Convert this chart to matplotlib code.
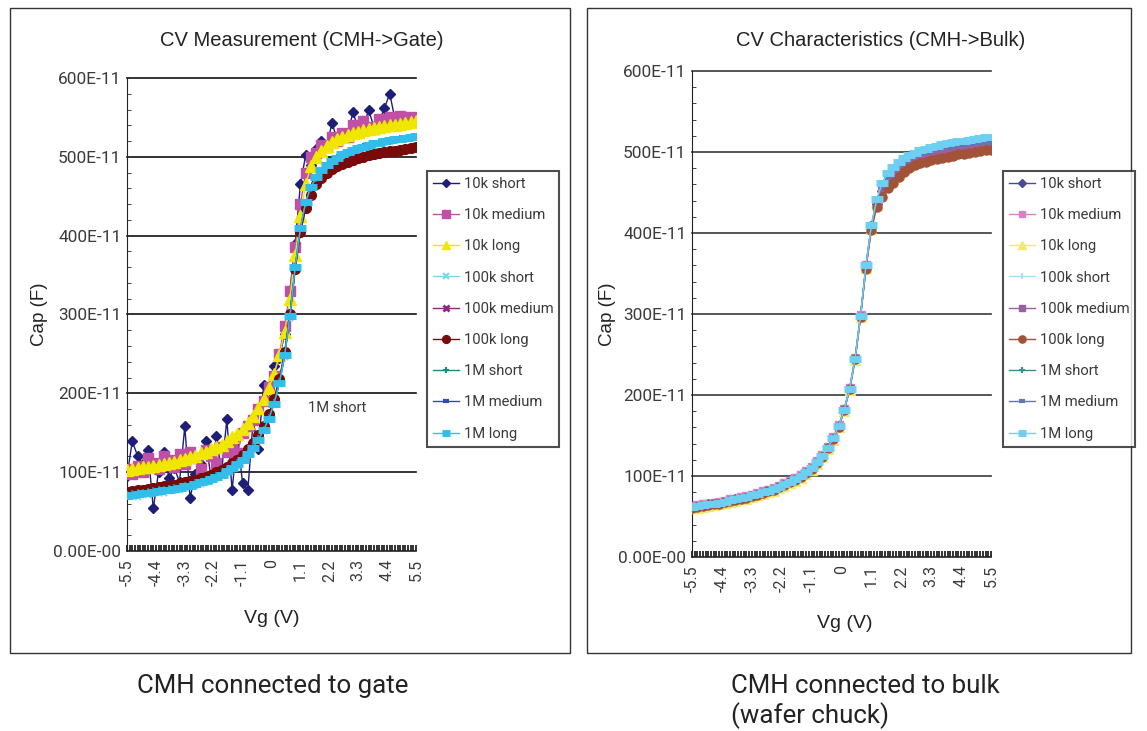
import matplotlib
matplotlib.use("Agg")
import matplotlib.pyplot as plt
from matplotlib.patches import Rectangle
from matplotlib.ticker import MultipleLocator, FixedLocator, FuncFormatter

plt.rcParams['font.family'] = ['Roboto', 'DejaVu Sans']

# gate voltage sweep (V)
vg = [-5.5, -5.3, -5.1, -4.9, -4.7, -4.5, -4.3, -4.1,
      -3.9, -3.7, -3.5, -3.3, -3.1, -2.9, -2.7, -2.5,
      -2.3, -2.1, -1.9, -1.7, -1.5, -1.3, -1.1, -0.9,
      -0.7, -0.5, -0.3, -0.1, 0.1, 0.3, 0.5, 0.7,
      0.9, 1.1, 1.3, 1.5, 1.7, 1.9, 2.1, 2.3,
      2.5, 2.7, 2.9, 3.1, 3.3, 3.5, 3.7, 3.9,
      4.1, 4.3, 4.5, 4.7, 4.9, 5.1, 5.3, 5.5]

series_names = ["10k short", "10k medium", "10k long",
                "100k short", "100k medium", "100k long",
                "1M short", "1M medium", "1M long"]

x_tick_vals = [-5.5, -4.4, -3.3, -2.2, -1.1, 0, 1.1, 2.2, 3.3, 4.4, 5.5]
x_tick_labels = ["-5.5", "-4.4", "-3.3", "-2.2", "-1.1", "0",
                 "1.1", "2.2", "3.3", "4.4", "5.5"]

# capacitance, in units of 1E-11 F -- CMH connected to gate
gate_10k_short = [95, 139, 121, 110, 128, 54, 100, 126,
                  92, 105, 88, 158, 67, 98, 110, 140,
                  92, 146, 100, 167, 77, 145, 86, 77,
                  165, 130, 210, 190, 235, 245, 275, 330,
                  390, 465, 502, 490, 510, 520, 512, 543,
                  522, 530, 528, 557, 535, 540, 559, 538,
                  545, 562, 580, 548, 552, 548, 545, 550]
gate_10k_medium = [104, 98, 108, 100, 118, 112, 104, 121,
                   115, 106, 123, 110, 126, 118, 104, 128,
                   120, 112, 132, 125, 137, 124, 150, 158,
                   166, 180, 190, 208, 222, 250, 285, 330,
                   385, 440, 480, 500, 505, 515, 512, 525,
                   520, 530, 525, 540, 532, 545, 538, 535,
                   548, 540, 550, 545, 552, 546, 550, 548]
gate_10k_long = [103, 104, 105, 106, 107, 108, 109, 110,
                 111, 113, 115, 117, 119, 121, 124, 126,
                 129, 132, 135, 139, 144, 149, 155, 162,
                 171, 181, 193, 207, 225, 248, 278, 320,
                 375, 425, 465, 488, 500, 508, 514, 519,
                 522, 525, 528, 530, 532, 534, 535, 537,
                 538, 539, 540, 541, 542, 543, 544, 545]
gate_100k_short = [68, 70, 69, 72, 71, 73, 74, 73,
                   76, 77, 78, 80, 81, 83, 85, 87,
                   90, 92, 96, 99, 104, 108, 115, 122,
                   130, 140, 152, 167, 186, 212, 246, 296,
                   358, 408, 440, 460, 472, 480, 487, 492,
                   496, 500, 503, 506, 508, 511, 512, 514,
                   516, 517, 519, 520, 521, 522, 523, 524]
gate_100k_medium = [74, 75, 76, 77, 78, 79, 80, 81,
                    82, 83, 85, 86, 88, 89, 91, 93,
                    96, 99, 102, 106, 110, 115, 121, 128,
                    136, 146, 158, 173, 192, 217, 251, 299,
                    357, 404, 434, 451, 464, 472, 479, 483,
                    487, 490, 493, 495, 497, 499, 501, 502,
                    504, 505, 506, 507, 508, 509, 510, 511]
gate_100k_long = [75, 76, 77, 78, 79, 80, 81, 82,
                  83, 84, 86, 87, 89, 90, 92, 94,
                  97, 100, 103, 107, 111, 116, 122, 129,
                  137, 147, 159, 174, 193, 218, 252, 300,
                  358, 405, 435, 452, 465, 473, 480, 484,
                  488, 491, 494, 496, 498, 500, 502, 503,
                  505, 506, 507, 508, 509, 510, 511, 512]
gate_1m_short = [71, 72, 73, 73, 75, 76, 77, 78,
                 79, 80, 81, 83, 84, 86, 88, 90,
                 92, 95, 98, 102, 106, 111, 117, 124,
                 132, 142, 154, 169, 188, 214, 249, 298,
                 360, 409, 442, 461, 473, 482, 489, 494,
                 498, 502, 505, 508, 510, 512, 514, 516,
                 517, 519, 520, 521, 522, 523, 524, 525]
gate_1m_medium = [70, 71, 72, 73, 74, 75, 76, 77,
                  78, 79, 81, 82, 84, 85, 87, 89,
                  91, 94, 97, 101, 105, 110, 116, 123,
                  131, 141, 153, 168, 187, 213, 248, 297,
                  359, 409, 442, 461, 473, 482, 489, 494,
                  498, 502, 505, 508, 510, 512, 514, 516,
                  517, 519, 520, 521, 522, 523, 524, 525]
gate_1m_long = [70, 71, 72, 73, 74, 75, 76, 77,
                78, 79, 80, 82, 83, 85, 87, 89,
                91, 94, 97, 101, 105, 110, 116, 123,
                131, 141, 153, 168, 187, 213, 248, 298,
                360, 410, 443, 462, 474, 483, 490, 495,
                499, 503, 506, 509, 511, 513, 515, 517,
                518, 520, 521, 522, 523, 524, 525, 526]

# capacitance, in units of 1E-11 F -- CMH connected to bulk
bulk_10k_short = [62, 63, 64, 65, 66, 67, 68, 69,
                  71, 72, 74, 75, 77, 79, 81, 84,
                  86, 89, 92, 96, 100, 104, 110, 116,
                  124, 134, 146, 161, 181, 207, 244, 297,
                  358, 407, 436, 452, 463, 470, 476, 481,
                  486, 489, 492, 494, 496, 498, 500, 501,
                  502, 503, 504, 505, 506, 506, 507, 507]
bulk_10k_medium = [63, 64, 65, 66, 67, 68, 69, 71,
                   72, 74, 75, 77, 79, 81, 83, 85,
                   88, 91, 94, 97, 101, 106, 111, 118,
                   126, 136, 148, 163, 183, 209, 246, 299,
                   360, 409, 439, 456, 467, 475, 481, 486,
                   490, 493, 496, 498, 500, 502, 504, 505,
                   506, 507, 508, 509, 509, 510, 510, 511]
bulk_10k_long = [60, 61, 62, 63, 64, 65, 67, 68,
                 69, 71, 72, 74, 76, 78, 80, 82,
                 85, 88, 91, 94, 98, 103, 108, 115,
                 123, 133, 145, 160, 180, 206, 243, 296,
                 357, 405, 434, 450, 460, 467, 473, 478,
                 483, 486, 489, 491, 493, 495, 497, 499,
                 500, 501, 502, 503, 504, 504, 505, 506]
bulk_100k_short = [62, 63, 64, 65, 66, 67, 68, 70,
                   71, 72, 74, 76, 78, 80, 82, 84,
                   87, 90, 93, 96, 100, 105, 110, 117,
                   125, 135, 147, 162, 182, 208, 245, 298,
                   360, 410, 441, 460, 472, 480, 486, 490,
                   494, 497, 500, 502, 504, 506, 508, 509,
                   510, 511, 512, 513, 514, 515, 515, 516]
bulk_100k_medium = [61, 62, 63, 64, 65, 67, 68, 69,
                    70, 72, 73, 75, 77, 79, 81, 83,
                    86, 89, 92, 95, 99, 104, 109, 116,
                    124, 134, 146, 161, 181, 207, 244, 297,
                    358, 407, 437, 453, 464, 471, 477, 482,
                    486, 489, 492, 494, 496, 498, 500, 502,
                    503, 504, 505, 506, 507, 507, 508, 508]
bulk_100k_long = [61, 62, 63, 64, 65, 66, 68, 69,
                  70, 72, 73, 75, 77, 79, 81, 83,
                  86, 89, 92, 95, 99, 104, 109, 116,
                  124, 134, 146, 161, 181, 207, 244, 296,
                  356, 404, 432, 445, 455, 462, 469, 475,
                  480, 484, 486, 488, 490, 491, 493, 494,
                  495, 497, 498, 499, 500, 501, 502, 503]
bulk_1m_short = [62, 63, 64, 65, 66, 67, 69, 70,
                 71, 73, 74, 76, 78, 80, 82, 84,
                 87, 90, 93, 96, 100, 105, 110, 117,
                 125, 135, 147, 162, 182, 208, 245, 298,
                 360, 410, 441, 459, 471, 479, 485, 489,
                 493, 496, 499, 501, 503, 505, 507, 508,
                 509, 510, 511, 512, 513, 513, 514, 514]
bulk_1m_medium = [62, 63, 64, 65, 66, 67, 68, 70,
                  71, 72, 74, 76, 78, 80, 82, 84,
                  87, 90, 93, 96, 100, 105, 110, 117,
                  125, 135, 147, 162, 182, 208, 245, 298,
                  359, 409, 440, 458, 470, 478, 484, 488,
                  492, 495, 498, 500, 502, 504, 506, 507,
                  508, 509, 510, 511, 511, 512, 512, 513]
bulk_1m_long = [62, 63, 64, 65, 66, 67, 68, 70,
                71, 73, 74, 76, 78, 80, 82, 84,
                87, 90, 93, 96, 100, 105, 110, 117,
                125, 135, 147, 162, 182, 208, 245, 298,
                360, 410, 442, 462, 474, 482, 488, 492,
                496, 499, 502, 504, 506, 508, 510, 511,
                512, 513, 514, 515, 516, 517, 518, 519]

gate_data = [gate_10k_short, gate_10k_medium, gate_10k_long,
             gate_100k_short, gate_100k_medium, gate_100k_long,
             gate_1m_short, gate_1m_medium, gate_1m_long]
bulk_data = [bulk_10k_short, bulk_10k_medium, bulk_10k_long,
             bulk_100k_short, bulk_100k_medium, bulk_100k_long,
             bulk_1m_short, bulk_1m_medium, bulk_1m_long]

# (color, marker, markersize, marker edge width)
gate_styles = [("#1E1E78", "D", 5, 1), ("#C04FA8", "s", 7, 1),
               ("#F0E600", "^", 8, 1), ("#7DD6EA", "x", 5, 1.5),
               ("#862A86", "x", 5, 2), ("#7A0A0A", "o", 7, 1),
               ("#1B8A7E", "+", 6, 1.5), ("#2E4DAA", "_", 6, 3),
               ("#33BDEB", "_", 8, 5)]
bulk_styles = [("#4B4B8F", "D", 5, 1), ("#D782C6", "s", 6, 1),
               ("#F2E86A", "^", 7, 1), ("#A3E2F0", "|", 6, 1.5),
               ("#9C5FA6", "s", 5, 1), ("#A3523A", "o", 6.5, 1),
               ("#3E8E89", "+", 6, 1.5), ("#6474C0", "_", 6, 3),
               ("#6FCFF2", "_", 8, 5)]

TXT = "#3a3a3a"
SANS = ["Liberation Sans", "DejaVu Sans"]


def cap_label(v, pos):
    if v == 0:
        return "0.00E-00"
    return f"{int(v)}E-11"


def draw_panel(fig, rect, data, styles, title, title_x, legend_xy, grid_color):
    ax = fig.add_axes(rect)
    lines = []
    for values, name, (col, mk, ms, mew) in zip(data, series_names, styles):
        ln, = ax.plot(vg, values, color=col, marker=mk, markersize=ms,
                      markeredgewidth=mew, markeredgecolor=col, lw=1,
                      label=name, zorder=3)
        lines.append(ln)
    ax.set_xlim(-5.5, 5.5)
    ax.set_ylim(0, 600)
    for y in [100, 200, 300, 400, 500, 600]:
        ax.axhline(y, color=grid_color, lw=1.2, zorder=1, clip_on=False)
    for s in ["top", "right"]:
        ax.spines[s].set_visible(False)
    ax.spines["left"].set_color("#222222")
    ax.spines["bottom"].set_color("#222222")
    ax.spines["bottom"].set_linewidth(1.2)

    ax.xaxis.set_major_locator(FixedLocator(x_tick_vals))
    ax.set_xticklabels(x_tick_labels, rotation=90)
    ax.xaxis.set_minor_locator(MultipleLocator(0.1))
    ax.tick_params(axis="x", which="both", direction="in", length=4,
                   width=1.3, color="#222222", labelsize=11.5, labelcolor=TXT,
                   pad=6)
    ax.yaxis.set_major_locator(MultipleLocator(100))
    ax.yaxis.set_minor_locator(MultipleLocator(20))
    ax.yaxis.set_major_formatter(FuncFormatter(cap_label))
    ax.tick_params(axis="y", which="major", length=0, labelsize=12.4,
                   labelcolor=TXT, pad=4)
    ax.tick_params(axis="y", which="minor", direction="in", length=3,
                   color="#222222")

    ax.set_ylabel("Cap (F)", fontsize=13.5, color="#222222", family=SANS)
    ax.set_xlabel("Vg (V)", fontsize=14, color="#222222", family=SANS)
    fig.text(title_x, 1 - 40 / 731, title, ha="center", va="center",
             fontsize=14.5, color="#222222", family=SANS)

    leg = fig.legend(handles=lines, loc="upper left", bbox_to_anchor=legend_xy,
                     fontsize=10.6, frameon=True, fancybox=False,
                     edgecolor="#222222", labelspacing=1.17, markerscale=0.8,
                     handlelength=1.8, handletextpad=0.3, borderpad=0.4,
                     borderaxespad=0, labelcolor=TXT)
    leg.get_frame().set_linewidth(1.5)
    return ax


def main():
    W, H = 1147, 731
    fig = plt.figure(figsize=(W / 100, H / 100), dpi=100)

    # panel frames
    fig.patches.append(Rectangle((10 / W, 1 - 653 / H), 560 / W, 645 / H,
                                 transform=fig.transFigure, fill=False,
                                 edgecolor="#333333", lw=1))
    fig.patches.append(Rectangle((587 / W, 1 - 653 / H), 544 / W, 645 / H,
                                 transform=fig.transFigure, fill=False,
                                 edgecolor="#333333", lw=1))

    ax1 = draw_panel(fig, [127 / W, 1 - 551 / H, 289 / W, 473 / H],
                     gate_data, gate_styles, "CV Measurement (CMH->Gate)",
                     302 / W, (427 / W, 1 - 171 / H), "#111111")
    ax1.yaxis.set_label_coords(-0.275, 0.5)
    ax1.xaxis.set_label_coords(0.5, -0.125)
    ax1.text(2.5, 181, "1M short", fontsize=10.5, color=TXT,
             ha="center", va="center")

    ax2 = draw_panel(fig, [692 / W, 1 - 557 / H, 299 / W, 486 / H],
                     bulk_data, bulk_styles, "CV Characteristics (CMH->Bulk)",
                     881 / W, (1003 / W, 1 - 171 / H), "#3a3a3a")
    ax2.yaxis.set_label_coords(-0.255, 0.5)
    ax2.xaxis.set_label_coords(0.51, -0.12)

    fig.text(137 / W, 1 - 686 / H, "CMH connected to gate", fontsize=18.6,
             color="#222222", va="center", ha="left")
    fig.text(731 / W, 1 - 686 / H, "CMH connected to bulk", fontsize=18.6,
             color="#222222", va="center", ha="left")
    fig.text(731 / W, 1 - 716 / H, "(wafer chuck)", fontsize=18.6,
             color="#222222", va="center", ha="left")

    fig.savefig("out.png", dpi=100)


if __name__ == "__main__":
    main()
